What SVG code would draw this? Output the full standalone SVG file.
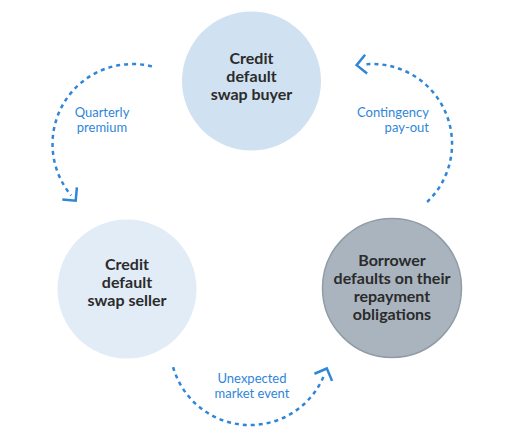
<svg xmlns="http://www.w3.org/2000/svg" width="512" height="437" viewBox="0 0 512 437">
<style>
.node-text{font-family:Lato,"Liberation Sans",sans-serif;font-weight:700;font-size:16px;fill:#2b2b2b;text-anchor:middle}
.lbl{font-family:Lato,"Liberation Sans",sans-serif;font-size:13px;fill:#2f86d8}
.arc{fill:none;stroke:#2f86d8;stroke-width:2.5;stroke-dasharray:4 4}
</style>
<defs>
<marker id="chev" markerUnits="userSpaceOnUse" orient="auto" refX="-7" refY="0" markerWidth="30" markerHeight="30" viewBox="-15 -15 30 30" overflow="visible">
<path d="M-9.5,-9.5 L0,0 L-9.5,9.5" fill="none" stroke="#2f86d8" stroke-width="2.5"/>
</marker>
</defs>
<rect width="512" height="437" fill="#ffffff"/>
<g id="connectors">
<path class="arc" d="M151.9,66.4 A80,80 0 0 0 71.2,195.4" marker-end="url(#chev)"/>
<path class="arc" d="M427.1,202 A80,80 0 0 0 363.6,64.4" marker-end="url(#chev)"/>
<path class="arc" d="M173.1,367.1 A80,80 0 0 0 324.2,375" marker-end="url(#chev)"/>
</g>
<g id="node-buyer">
<circle cx="251.5" cy="81" r="69.5" fill="#d0e1f1"/>
<text class="node-text" x="251.5" y="64">Credit</text>
<text class="node-text" x="251.5" y="82">default</text>
<text class="node-text" x="251.5" y="100">swap buyer</text>
</g>
<g id="node-seller">
<circle cx="127" cy="289" r="69.5" fill="#e1ecf6"/>
<text class="node-text" x="127" y="270">Credit</text>
<text class="node-text" x="127" y="288">default</text>
<text class="node-text" x="127" y="306">swap seller</text>
</g>
<g id="node-borrower">
<circle cx="392" cy="288" r="69.5" fill="#a9b4bf" stroke="#909ca8" stroke-width="1.5"/>
<text class="node-text" x="392" y="266">Borrower</text>
<text class="node-text" x="392" y="284">defaults on their</text>
<text class="node-text" x="392" y="302">repayment</text>
<text class="node-text" x="392" y="320">obligations</text>
</g>
<g id="labels">
<text class="lbl" x="102" y="117" text-anchor="middle">Quarterly</text>
<text class="lbl" x="102" y="132" text-anchor="middle">premium</text>
<text class="lbl" x="429" y="117" text-anchor="end">Contingency</text>
<text class="lbl" x="429" y="132" text-anchor="end">pay-out</text>
<text class="lbl" x="252" y="383" text-anchor="middle">Unexpected</text>
<text class="lbl" x="252" y="398" text-anchor="middle">market event</text>
</g>
</svg>
